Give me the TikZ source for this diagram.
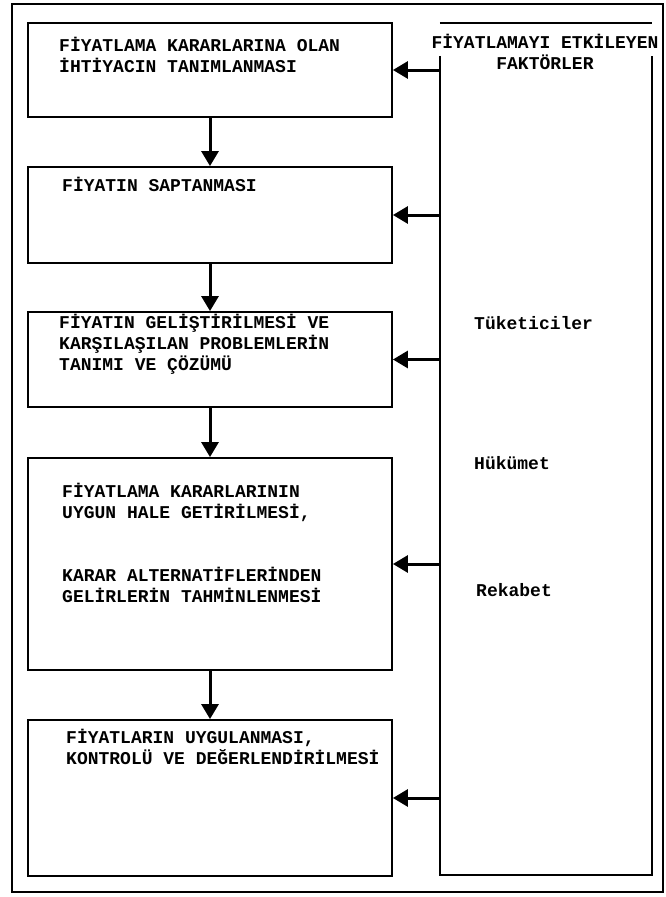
\documentclass[tikz,border=0pt]{standalone}
\usepackage{fontspec}
\setmonofont{Liberation Mono}
\usetikzlibrary{arrows.meta}

\begin{document}
\begin{tikzpicture}[x=1pt,y=-1pt,>={Triangle[length=15pt,width=17pt]},font=\ttfamily\bfseries\fontsize{18}{21}\selectfont]
\tikzstyle{b}=[draw,line width=1.8pt,minimum width=364pt,inner sep=0pt]
\tikzstyle{t}=[anchor=base west,align=left,inner sep=0pt]
\tikzstyle{arr}=[->,line width=3pt]
\useasboundingbox (0,0) rectangle (666,897);
\draw[line width=2.8pt] (12,4) rectangle (663,892);
% steps of the pricing process (base = last line)
\node[b,minimum height=94pt] (b1) at (210,70) {}; \node[t] (t1) at (59,72) {FİYATLAMA KARARLARINA OLAN\\İHTİYACIN TANIMLANMASI};
\node[b,minimum height=96pt] (b2) at (210,215) {}; \node[t] (t2) at (62,191) {FİYATIN SAPTANMASI};
\node[b,minimum height=95pt] (b3) at (210,359.5) {}; \node[t] (t3) at (59,370) {FİYATIN GELİŞTİRİLMESİ VE\\KARŞILAŞILAN PROBLEMLERİN\\TANIMI VE ÇÖZÜMÜ};
\node[b,minimum height=212pt] (b4) at (210,564) {}; \node[t] (t4a) at (62,518) {FİYATLAMA KARARLARININ\\UYGUN HALE GETİRİLMESİ,}; \node[t] (t4b) at (62,602) {KARAR ALTERNATİFLERİNDEN\\GELİRLERİN TAHMİNLENMESİ};
\node[b,minimum height=156pt] (b5) at (210,798) {}; \node[t] (t5) at (66,764) {FİYATLARIN UYGULANMASI,\\KONTROLÜ VE DEĞERLENDİRİLMESİ};
\draw[arr] (b1) -- (b2); \draw[arr] (b2) -- (b3); \draw[arr] (b3) -- (b4); \draw[arr] (b4) -- (b5);
% factors panel
\node[minimum width=212pt,minimum height=852pt,inner sep=0pt] (pnl) at (546,449) {};
\draw[line width=1.8pt] (pnl.north west) -- (pnl.north east);
\draw[line width=1.8pt] ([yshift=-33pt]pnl.north west) -- (pnl.south west) -- (pnl.south east) -- ([yshift=-33pt]pnl.north east);
\node[align=center,inner sep=0pt] (ttl) at (545,52) {FİYATLAMAYI ETKİLEYEN\\FAKTÖRLER};
\node[t] (f1) at (474,329) {Tüketiciler}; \node[t] (f2) at (474,469) {Hükümet}; \node[t] (f3) at (476,596) {Rekabet};
\draw[arr] (pnl.west |- b1.east) -- (b1.east); \draw[arr] (pnl.west |- b2.east) -- (b2.east); \draw[arr] (pnl.west |- b3.east) -- (b3.east);
\draw[arr] (pnl.west |- b4.east) -- (b4.east); \draw[arr] (pnl.west |- b5.east) -- (b5.east);
\end{tikzpicture}
\end{document}
